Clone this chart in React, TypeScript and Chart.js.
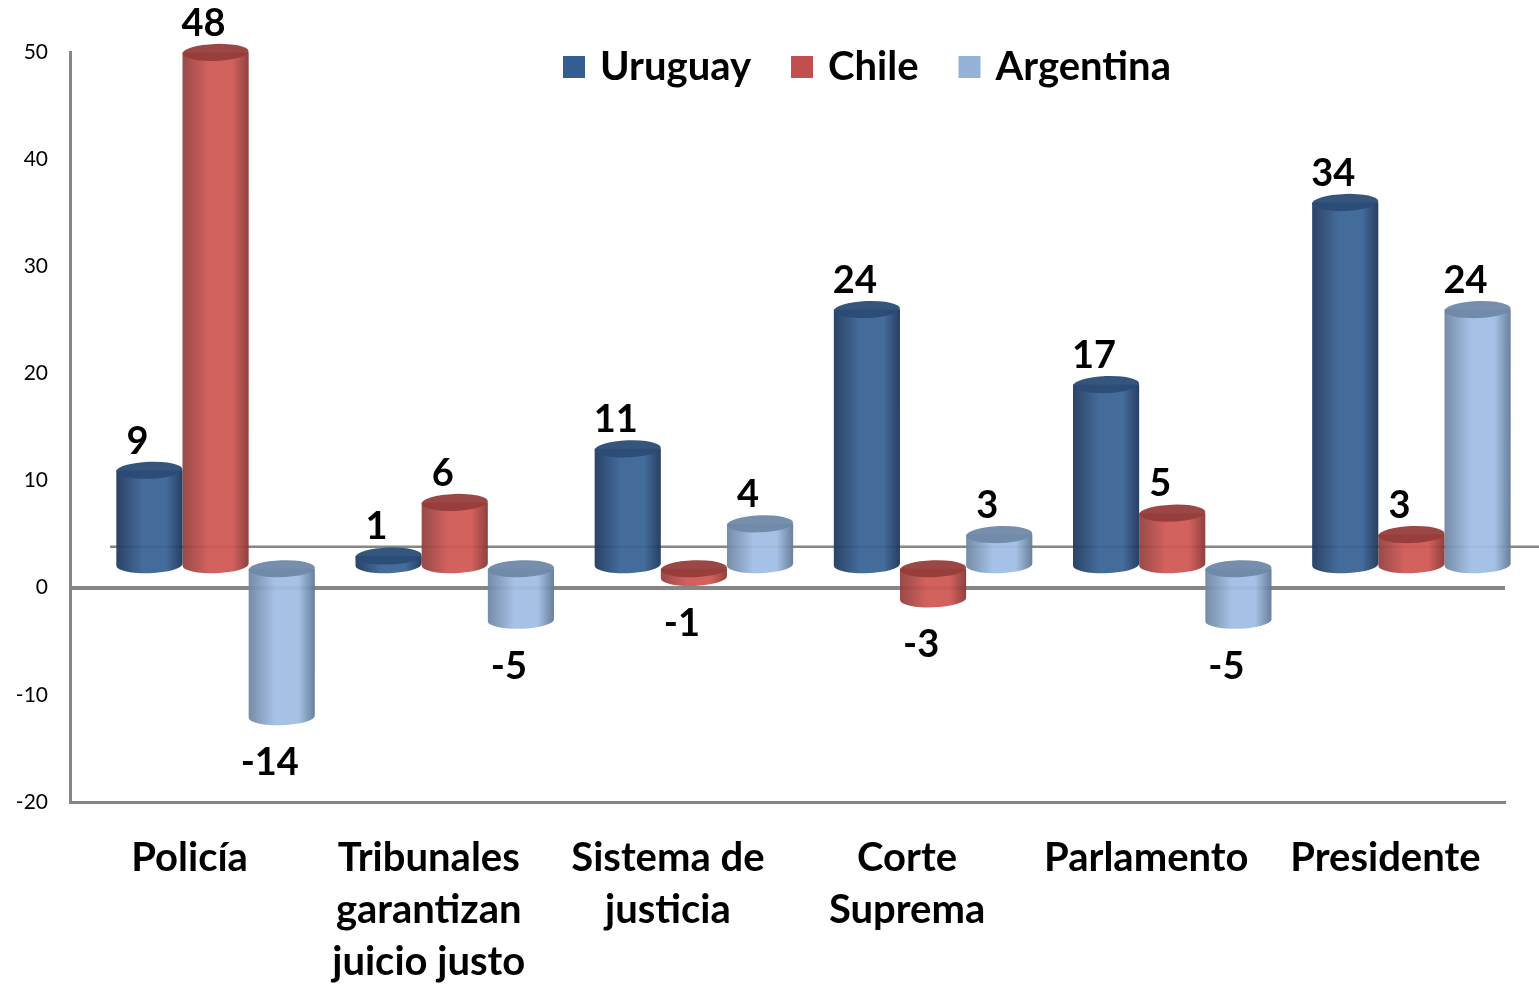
import React, { useEffect, useRef } from 'react';
import { Chart, registerables } from 'chart.js';
Chart.register(...registerables);

const categories: string[][] = [
  ['Policía'],
  ['Tribunales', 'garantizan', 'juicio justo'],
  ['Sistema de', 'justicia'],
  ['Corte', 'Suprema'],
  ['Parlamento'],
  ['Presidente'],
];
const seriesNames = ['Uruguay', 'Chile', 'Argentina'];
const uruguay = [9, 1, 11, 24, 17, 34];
const chile = [48, 6, -1, -3, 5, 3];
const argentina = [-14, -5, 4, 3, -5, 24];
const yMin = -20;
const yMax = 50;
const yStep = 10;

const palettes = [
  { base: '#345e91', edgeL: '#20395e', light: '#3a6496', edgeR: '#1d355a', top: '#2b4c76' },
  { base: '#c0504d', edgeL: '#93403e', light: '#d05956', edgeR: '#8a3735', top: '#963d3b' },
  { base: '#95b3d7', edgeL: '#6f86a3', light: '#a0bee4', edgeR: '#627996', top: '#7089a9' },
];

const DX = 26;
const DY = -21;
const RY = 8.5;
const ROT = -0.035;
const FONT = 'Lato, "Open Sans", sans-serif';

function barGeom(bar: any) {
  const p = bar.getProps(['x', 'y', 'base', 'width'], true);
  const cx = p.x + DX;
  const top = Math.min(p.y, p.base) + DY;
  const bot = Math.max(p.y, p.base) + DY;
  return { cx, top, bot, w: p.width };
}

const cylinderPlugin = {
  id: 'cylinders',
  beforeDatasetsDraw(chart: any) {
    const ctx = chart.ctx;
    const y0 = chart.scales.y.getPixelForValue(0);
    ctx.save();
    ctx.strokeStyle = '#868686';
    ctx.lineWidth = 2.5;
    ctx.beginPath();
    ctx.moveTo(110, y0 - 41);
    ctx.lineTo(chart.width, y0 - 41);
    ctx.stroke();
    ctx.restore();
  },
  beforeDatasetDraw(chart: any, args: any) {
    const ctx = chart.ctx;
    const pal = palettes[args.index];
    args.meta.data.forEach((bar: any) => {
      const { cx, top, bot, w } = barGeom(bar);
      const rx = w / 2;
      const left = cx - rx;
      const right = cx + rx;
      const g = ctx.createLinearGradient(left, 0, right, 0);
      g.addColorStop(0, pal.edgeL);
      g.addColorStop(0.4, pal.light);
      g.addColorStop(0.75, pal.light);
      g.addColorStop(1, pal.edgeR);
      ctx.save();
      ctx.globalAlpha = 0.95;
      ctx.beginPath();
      ctx.moveTo(left, top);
      ctx.lineTo(left, bot);
      ctx.ellipse(cx, bot, rx, RY, ROT, Math.PI, 0, true);
      ctx.lineTo(right, top);
      ctx.closePath();
      ctx.fillStyle = g;
      ctx.fill();
      ctx.beginPath();
      ctx.ellipse(cx, top, rx, RY, ROT, 0, Math.PI * 2);
      ctx.fillStyle = pal.top;
      ctx.fill();
      ctx.restore();
    });
    return false;
  },
  afterDatasetsDraw(chart: any) {
    const ctx = chart.ctx;
    ctx.save();
    ctx.font = `bold 38px ${FONT}`;
    ctx.fillStyle = '#000';
    ctx.textAlign = 'center';
    ctx.textBaseline = 'middle';
    chart.data.datasets.forEach((ds: any, di: number) => {
      const meta = chart.getDatasetMeta(di);
      meta.data.forEach((bar: any, i: number) => {
        const v = ds.data[i];
        const { cx, top, bot } = barGeom(bar);
        const y = v >= 0 ? top - 29 : bot + 46;
        ctx.fillText(String(v), cx - 12, y);
      });
    });
    ctx.restore();
  },
  afterDraw(chart: any) {
    const ctx = chart.ctx;
    ctx.save();
    ctx.font = `bold 40px ${FONT}`;
    ctx.textBaseline = 'middle';
    ctx.textAlign = 'left';
    let x = 563;
    chart.data.datasets.forEach((ds: any, di: number) => {
      ctx.fillStyle = palettes[di].base;
      ctx.fillRect(x, 56, 22, 22);
      ctx.fillStyle = '#000';
      ctx.fillText(ds.label, x + 37, 67);
      x += 37 + ctx.measureText(ds.label).width + 40;
    });
    ctx.restore();
  },
};

export default function App() {
  const ref = useRef<HTMLCanvasElement>(null);
  useEffect(() => {
    if (!ref.current) return;
    const chart = new Chart(ref.current, {
      type: 'bar',
      data: {
        labels: categories as any,
        datasets: [uruguay, chile, argentina].map((d, i) => ({
          label: seriesNames[i],
          data: d,
          backgroundColor: palettes[i].base,
          barPercentage: 1,
          categoryPercentage: 0.83,
        })),
      },
      options: {
        responsive: true,
        maintainAspectRatio: false,
        animation: false,
        layout: { padding: { top: 52, right: 34, left: 0, bottom: 0 } },
        plugins: { legend: { display: false }, tooltip: { enabled: false } },
        scales: {
          x: {
            grid: { display: false },
            border: { display: true, color: '#868686', width: 3 },
            ticks: {
              color: '#000',
              font: { family: FONT, size: 40, weight: 'bold', lineHeight: 1.3 },
              padding: 22,
              maxRotation: 0,
              autoSkip: false,
            },
            afterFit: (s: any) => { s.height = 182; },
          },
          y: {
            min: yMin,
            max: yMax,
            grid: {
              drawTicks: false,
              color: (c: any) => (c.tick && c.tick.value === 0 ? '#868686' : 'rgba(0,0,0,0)'),
              lineWidth: (c: any) => (c.tick && c.tick.value === 0 ? 4 : 0),
            },
            border: { display: true, color: '#868686', width: 3 },
            ticks: {
              stepSize: yStep,
              color: '#000',
              font: { family: FONT, size: 21 },
              padding: 22,
            },
            afterFit: (s: any) => { s.width = 70; },
          },
        },
      },
      plugins: [cylinderPlugin],
    });
    return () => chart.destroy();
  }, []);
  return (
    <div style={{ position: 'fixed', left: 0, top: 0, width: 1539, height: 984, background: '#fff' }}>
      <canvas ref={ref} />
    </div>
  );
}
